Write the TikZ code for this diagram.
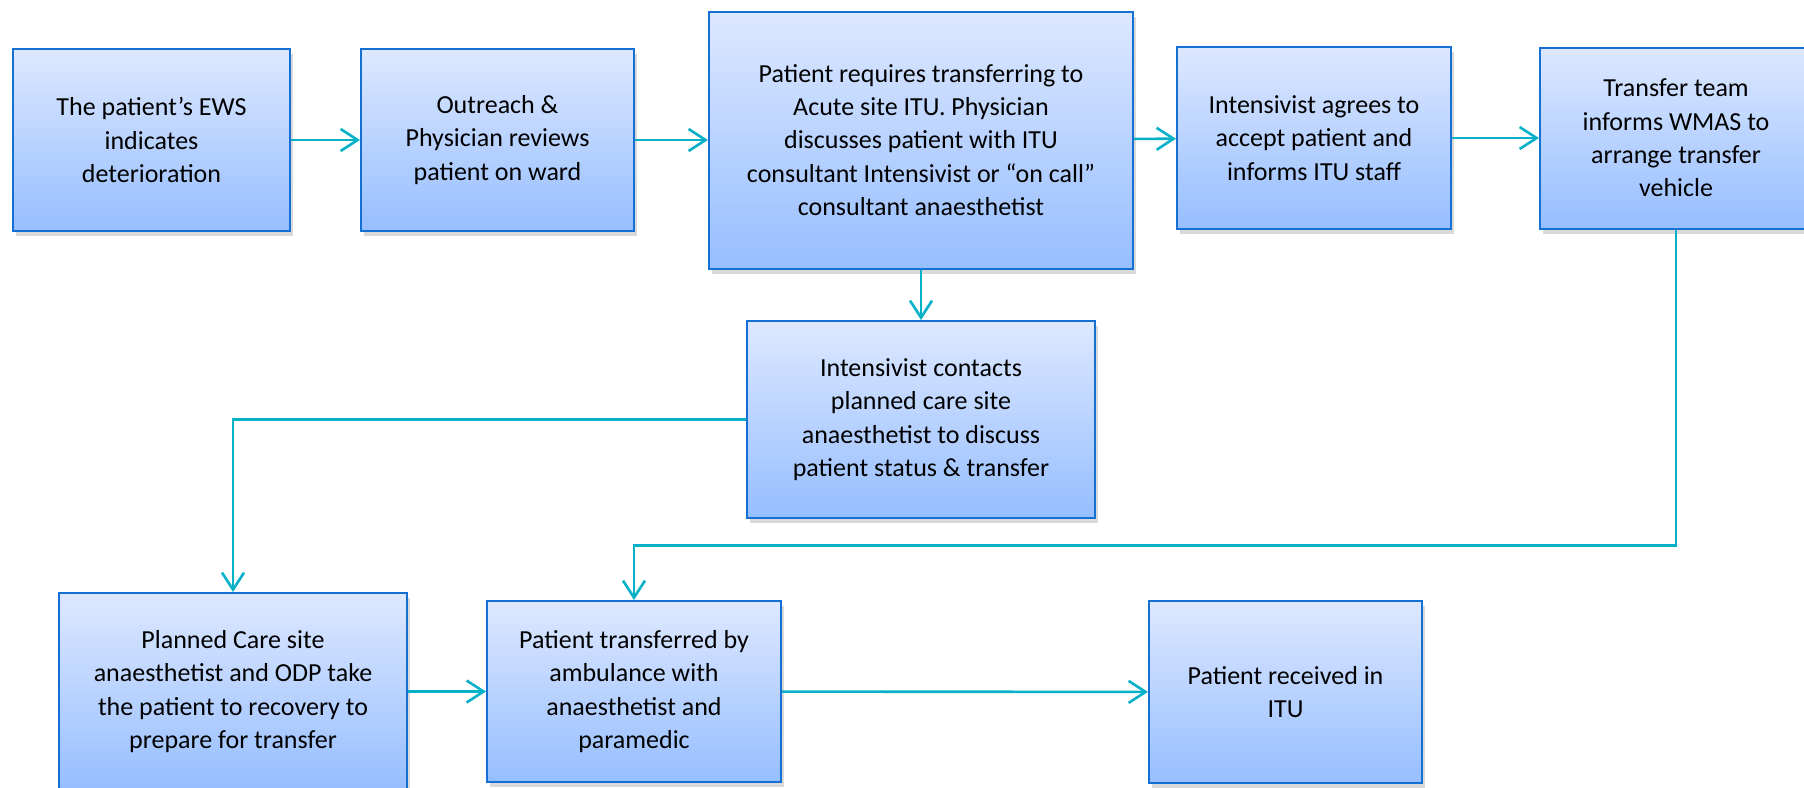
\documentclass[tikz,border=0pt]{standalone}
\usepackage{fontspec}
\setmainfont{Carlito}
\usetikzlibrary{arrows.meta,shadows}

\definecolor{boxtop}{RGB}{221,232,255}
\definecolor{boxbot}{RGB}{150,190,255}
\definecolor{boxline}{RGB}{20,112,210}
\definecolor{flowline}{RGB}{8,176,200}

\begin{document}
\begin{tikzpicture}[x=1pt, y=-1pt]

\tikzset{stepbox/.style = {draw=boxline, line width=2pt, top color=boxtop, bottom color=boxbot,
    align=center, inner sep=0pt, font=\fontsize{26}{33.4}\selectfont,
    drop shadow={opacity=0.3, shadow xshift=3pt, shadow yshift=-5pt}},
  flow/.style = {draw=flowline, line width=2.6pt,
    -{Straight Barb[length=17pt, width=22pt, line width=2.6pt]}}}

\useasboundingbox (0,0) rectangle (1804,787);

\node[stepbox, minimum width=277, minimum height=182] (b1) at (151.5,140)
  {The patient's EWS\\indicates\\deterioration};
\node[stepbox, minimum width=273, minimum height=182] (b2) at (497.5,140)
  {Outreach \&\\Physician reviews\\patient on ward};
\node[stepbox, minimum width=424, minimum height=257] (b3) at (921,140)
  {Patient requires transferring to\\Acute site ITU. Physician\\discusses patient with ITU\\consultant Intensivist or ``on call''\\consultant anaesthetist};
\node[stepbox, minimum width=274, minimum height=182] (b4) at (1314,138)
  {Intensivist agrees to\\accept patient and\\informs ITU staff};
\node[stepbox, minimum width=272, minimum height=181] (b5) at (1676,138)
  {Transfer team\\informs WMAS to\\arrange transfer\\vehicle};
\node[stepbox, minimum width=348, minimum height=197] (b6) at (921,419.5)
  {Intensivist contacts\\planned care site\\anaesthetist to discuss\\patient status \& transfer};
\node[stepbox, minimum width=348, minimum height=197] (b7) at (233,691.5)
  {Planned Care site\\anaesthetist and ODP take\\the patient to recovery to\\prepare for transfer};
\node[stepbox, minimum width=294, minimum height=181] (b8) at (634,691.5)
  {Patient transferred by\\ambulance with\\anaesthetist and\\paramedic};
\node[stepbox, minimum width=273, minimum height=182] (b9) at (1285.5,692)
  {Patient received in\\ITU};

\draw[flow] (b1) -- (b2);
\draw[flow] (b2) -- (b3);
\draw[flow] (b3) -- (b4);
\draw[flow] (b4) -- (b5);
\draw[flow] (b3.south) -- (b6.north);
\draw[flow] (b6.west) -| (b7.north);
\draw[flow] (b5.south) -- ++(0,316) -| (b8.north);
\draw[flow] (b7) -- (b8);
\draw[flow] (b8) -- (b9);

\end{tikzpicture}
\end{document}
